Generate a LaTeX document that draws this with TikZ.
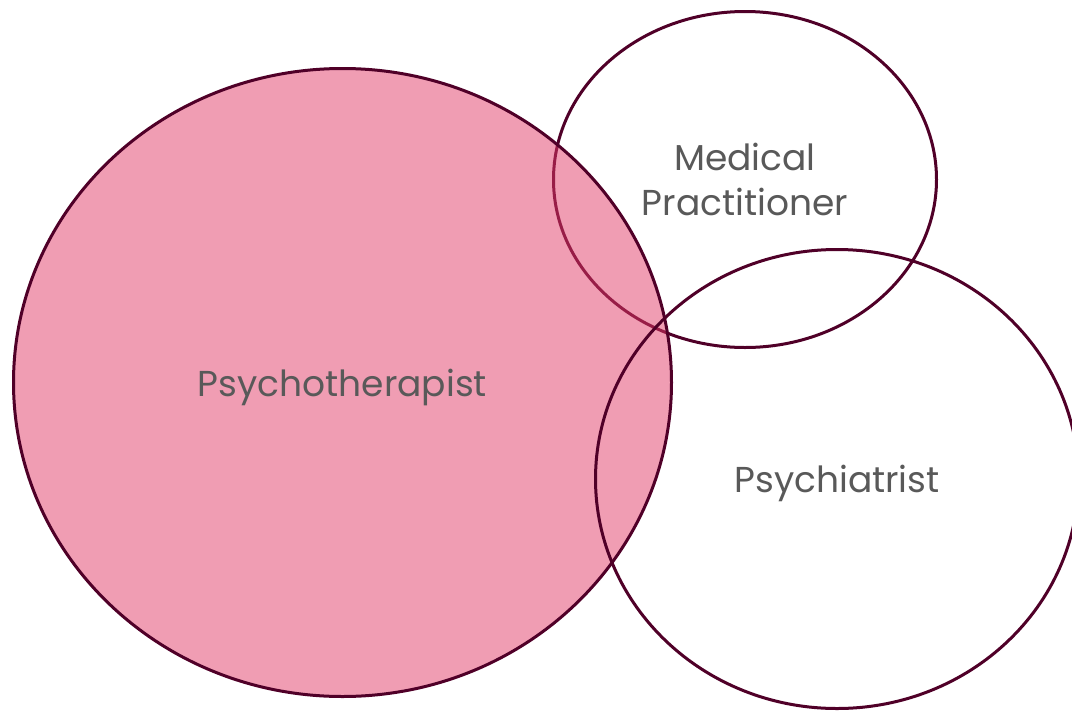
\documentclass[tikz,border=0pt]{standalone}
\usepackage{fontspec}
\setmainfont{Poppins}
\usetikzlibrary{shapes.geometric}
\definecolor{ringline}{RGB}{80,0,40}
\definecolor{rosefill}{RGB}{225,59,103}
\definecolor{labelgray}{RGB}{89,89,89}
\tikzset{
  ring/.style={draw=ringline, line width=3pt, ellipse, inner sep=0pt,
    text=labelgray, font=\fontsize{36}{45}\selectfont, align=center}
}
\begin{document}
\begin{tikzpicture}[x=1pt,y=-1pt]

\useasboundingbox (0,0) rectangle (1072,713);
\clip (0,0) rectangle (1072,713);
%
  \node[ring, minimum width=383pt, minimum height=336pt] (medical) at (745,179.5) {Medical\\Practitioner};
%
  \node[ring, fill=rosefill, fill opacity=0.5, text opacity=1, text depth=0pt,
    minimum width=658pt, minimum height=628pt] (therapist) at (342.5,382.5) {Psychotherapist};
%
  \node[ring, text depth=0pt, minimum width=483pt, minimum height=459pt] (psychiatrist) at (837,479) {Psychiatrist};
%
\end{tikzpicture}
\end{document}
